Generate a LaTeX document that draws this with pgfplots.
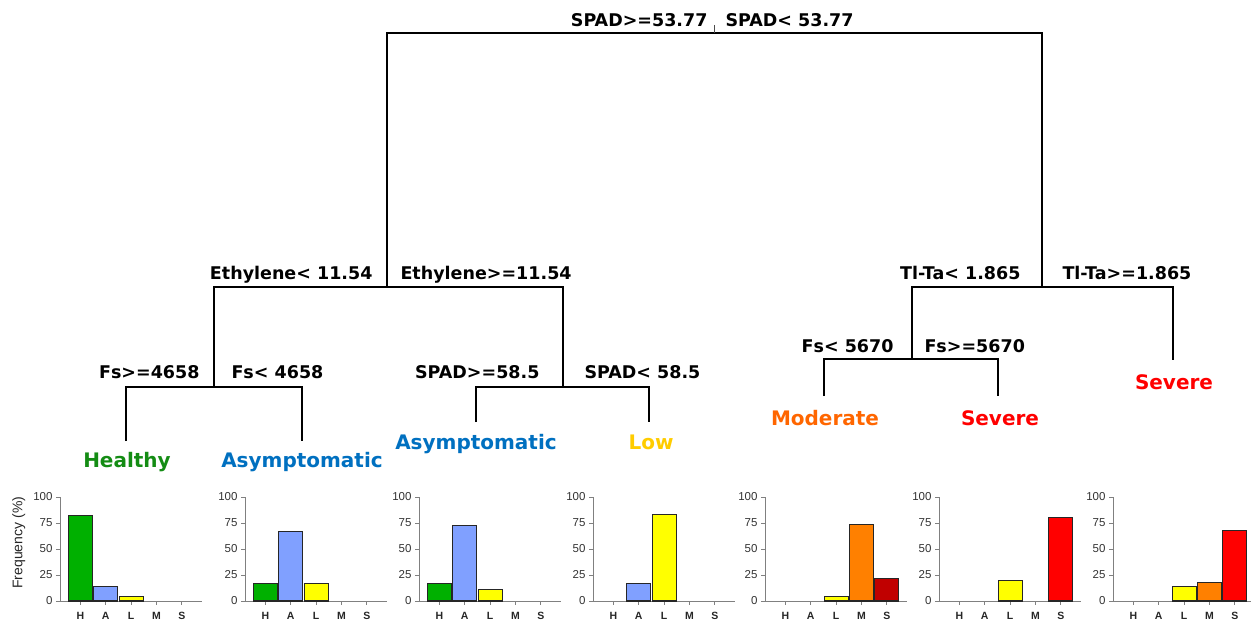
\documentclass[border=0pt]{standalone}
\usepackage{fontspec}
\setmainfont{Liberation Sans}
\newfontfamily\dejavu{DejaVu Sans}
\usepackage{pgfplots}
\pgfplotsset{compat=1.18}

\definecolor{cH}{RGB}{0,176,0}
\definecolor{cA}{RGB}{128,160,255}
\definecolor{cL}{RGB}{255,255,0}
\definecolor{cM}{RGB}{255,128,0}
\definecolor{cSd}{RGB}{192,0,0}
\definecolor{cS}{RGB}{255,0,0}
\definecolor{tH}{RGB}{20,140,20}
\definecolor{tA}{RGB}{0,112,192}
\definecolor{tL}{RGB}{255,204,0}
\definecolor{tM}{RGB}{255,102,0}
\definecolor{tS}{RGB}{255,0,0}

\newcommand{\splitfont}{\dejavu\bfseries\fontsize{17.5}{17.5}\selectfont}
\newcommand{\leaffont}{\dejavu\bfseries\fontsize{20}{20}\selectfont}

\pgfplotsset{minichart/.style={
  anchor=south west, scale only axis, width=142.24pt, height=104pt,
  xmin=-0.8, xmax=4.8, ymin=0, ymax=100,
  axis x line=bottom, axis y line=left,
  axis line style={black!50, line width=0.9pt, -},
  xtick={0,1,2,3,4}, xticklabels={H,A,L,M,S},
  ytick={0,25,50,75,100},
  tick align=outside, major tick length=4pt,
  tick style={black!50, line width=0.9pt},
  xticklabel style={font=\fontsize{10.5}{10.5}\selectfont\bfseries, text=black!85, yshift=-4pt},
  yticklabel style={font=\fontsize{11.5}{11.5}\selectfont, text=black!80},
  /pgf/number format/assume math mode=true,
  ybar, bar width=24pt, bar shift=0pt,
  clip=false,
}}
\tikzset{barH/.style={fill=cH, draw=black!85, line width=1.1pt},
  barA/.style={fill=cA, draw=black!85, line width=1.1pt},
  barL/.style={fill=cL, draw=black!85, line width=1.1pt},
  barM/.style={fill=cM, draw=black!85, line width=1.1pt},
  barSd/.style={fill=cSd, draw=black!85, line width=1.1pt},
  barS/.style={fill=cS, draw=black!85, line width=1.1pt}}

\begin{document}
\begin{tikzpicture}
\useasboundingbox (0,0) rectangle (1251pt,624pt);
% ---------- tree ----------
\begin{axis}[at={(0,0)}, anchor=south west, scale only axis,
  width=1251pt, height=624pt, xmin=0, xmax=1251, ymin=0, ymax=624,
  y dir=reverse, axis lines=none, clip=false]
\addplot[black, line width=2.9pt] coordinates {(387,287) (387,33) (1042,33) (1042,287)};
\addplot[black!70, line width=1pt] coordinates {(714,25) (714,33)};
\addplot[black, line width=2.9pt] coordinates {(214,387) (214,287) (563,287) (563,387)};
\addplot[black, line width=2.9pt] coordinates {(126,441) (126,387) (302,387) (302,441)};
\addplot[black, line width=2.9pt] coordinates {(476,422) (476,387) (649,387) (649,422)};
\addplot[black, line width=2.9pt] coordinates {(912,359) (912,287) (1173,287) (1173,360)};
\addplot[black, line width=2.9pt] coordinates {(824,396) (824,359) (998,359) (998,396)};

\node[anchor=base east, font=\splitfont] at (axis cs:711,27) {SPAD>=53.77};
\node[anchor=base west, font=\splitfont] at (axis cs:722,27) {SPAD< 53.77};
\node[anchor=base east, font=\splitfont] at (axis cs:376,279) {Ethylene< 11.54};
\node[anchor=base west, font=\splitfont] at (axis cs:397,279) {Ethylene>=11.54};
\node[anchor=base east, font=\splitfont] at (axis cs:203,378) {Fs>=4658};
\node[anchor=base west, font=\splitfont] at (axis cs:228,378) {Fs< 4658};
\node[anchor=base east, font=\splitfont] at (axis cs:543,378) {SPAD>=58.5};
\node[anchor=base west, font=\splitfont] at (axis cs:581,378) {SPAD< 58.5};
\node[anchor=base east, font=\splitfont] at (axis cs:1024,279) {Tl-Ta< 1.865};
\node[anchor=base west, font=\splitfont] at (axis cs:1059,279) {Tl-Ta>=1.865};
\node[anchor=base east, font=\splitfont] at (axis cs:897,352) {Fs< 5670};
\node[anchor=base west, font=\splitfont] at (axis cs:921,352) {Fs>=5670};

\node[anchor=base, font=\leaffont, text=tH] at (axis cs:127,467) {Healthy};
\node[anchor=base, font=\leaffont, text=tA] at (axis cs:302,467) {Asymptomatic};
\node[anchor=base, font=\leaffont, text=tA] at (axis cs:476,449) {Asymptomatic};
\node[anchor=base, font=\leaffont, text=tL] at (axis cs:651,449) {Low};
\node[anchor=base, font=\leaffont, text=tM] at (axis cs:825,425) {Moderate};
\node[anchor=base, font=\leaffont, text=tS] at (axis cs:1000,425) {Severe};
\node[anchor=base, font=\leaffont, text=tS] at (axis cs:1174,389) {Severe};
\end{axis}

% ---------- bar charts ----------
\begin{axis}[minichart, at={(60pt,23pt)},
  ylabel={Frequency (\%)},
  ylabel style={at={(axis description cs:-0.29,0.56)}, anchor=center,
    font=\fontsize{14}{14}\selectfont, text=black!85}]
\addplot[barH] coordinates {(0,81.8)};
\addplot[barA] coordinates {(1,13.6)};
\addplot[barL] coordinates {(2,4.6)};
\end{axis}

\begin{axis}[minichart, at={(245pt,23pt)}]
\addplot[barH] coordinates {(0,16.7)};
\addplot[barA] coordinates {(1,66.6)};
\addplot[barL] coordinates {(2,16.7)};
\end{axis}

\begin{axis}[minichart, at={(419pt,23pt)}]
\addplot[barH] coordinates {(0,16.7)};
\addplot[barA] coordinates {(1,72.2)};
\addplot[barL] coordinates {(2,11.1)};
\end{axis}

\begin{axis}[minichart, at={(593pt,23pt)}]
\addplot[barA] coordinates {(1,16.7)};
\addplot[barL] coordinates {(2,83.3)};
\end{axis}

\begin{axis}[minichart, at={(765pt,23pt)}]
\addplot[barL] coordinates {(2,4.3)};
\addplot[barM] coordinates {(3,73.9)};
\addplot[barSd] coordinates {(4,21.7)};
\end{axis}

\begin{axis}[minichart, at={(939pt,23pt)}]
\addplot[barL] coordinates {(2,20.0)};
\addplot[barS] coordinates {(4,80.0)};
\end{axis}

\begin{axis}[minichart, at={(1113pt,23pt)}]
\addplot[barL] coordinates {(2,14.0)};
\addplot[barM] coordinates {(3,18.0)};
\addplot[barS] coordinates {(4,68.0)};
\end{axis}
\end{tikzpicture}
\end{document}
